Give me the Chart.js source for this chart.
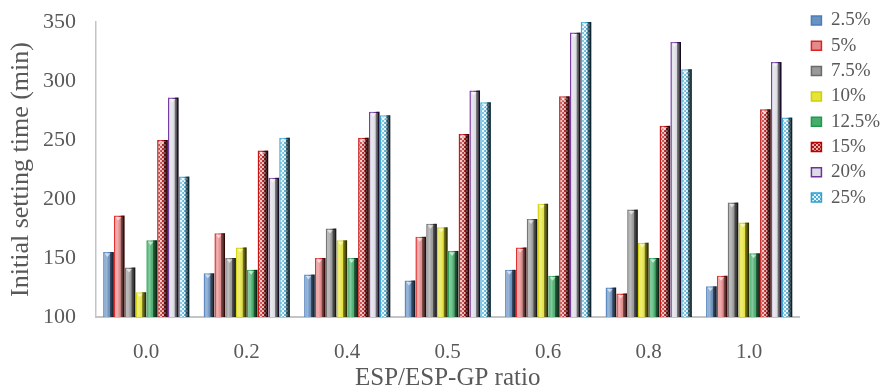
<!DOCTYPE html>
<html lang="en">
<head>
<meta charset="UTF-8">
<title>Initial setting time vs ESP/ESP-GP ratio</title>
<script src="https://cdn.jsdelivr.net/npm/chart.js"></script>
<style>
  html, body { margin: 0; padding: 0; background: #fff; }
  .wrap { width: 880px; height: 388px; }
</style>
</head>
<body>
<div class="wrap"><canvas id="chart"></canvas></div>
<script>
// categories and series
const ratios = ['0.0', '0.2', '0.4', '0.5', '0.6', '0.8', '1.0'];
const dosages = ['2.5%', '5%', '7.5%', '10%', '12.5%', '15%', '20%', '25%'];
const yTicks = [100, 150, 200, 250, 300, 350];

const time2_5 = [155, 137, 136, 131, 140, 125, 126];
const time5 = [186, 171, 150, 168, 159, 120, 135];
const time7_5 = [142, 150, 175, 179, 183, 191, 197];
const time10 = [121, 159, 165, 176, 196, 163, 180];
const time12_5 = [165, 140, 150, 156, 135, 150, 154];
const time15 = [250, 241, 252, 255, 287, 262, 276];
const time20 = [286, 218, 274, 292, 341, 333, 316];
const time25 = [219, 252, 271, 282, 350, 310, 269];
const series = [time2_5, time5, time7_5, time10, time12_5, time15, time20, time25];

// small checker tile used for the two dotted series
function checker(base, dot) {
  const c = document.createElement('canvas');
  c.width = 4; c.height = 4;
  const g = c.getContext('2d');
  g.fillStyle = base; g.fillRect(0, 0, 4, 4);
  g.fillStyle = dot; g.fillRect(0, 0, 2, 2); g.fillRect(2, 2, 2, 2);
  return g.createPattern(c, 'repeat');
}

const fills = ['#6A93C2', '#E58A8A', '#9A9A9A', '#E6E43A', '#45AE6C',
  checker('#B01818', '#E9B4B4'), '#DCDCE4', checker('#4FAFD6', '#E4F4FA')];
const edges = ['#4A7EBB', '#E02222', '#6A6A6A', '#D2CF00', '#1F9A4B',
  '#C00000', '#7030A0', '#2FA0D2'];

const font = "'Liberation Serif', 'Times New Roman', serif";
const grey = '#595959';

// shading on each bar: light streak, dark right side, small bevel on top
const bevel = {
  id: 'bevel',
  afterDatasetDraw(chart, args) {
    const ctx = chart.ctx;
    const area = chart.chartArea;
    ctx.save();
    ctx.beginPath();
    ctx.rect(area.left, area.top - 4, area.right - area.left, area.bottom - area.top + 4);
    ctx.clip();
    args.meta.data.forEach(bar => {
      const x = bar.x, y = bar.y, w = bar.width, h = bar.base - bar.y;
      if (!isFinite(x) || !isFinite(w) || h <= 0) return;
      const l = x - w / 2, r = x + w / 2;
      const g = ctx.createLinearGradient(l, 0, r, 0);
      g.addColorStop(0, 'rgba(255,255,255,0)');
      g.addColorStop(0.3, 'rgba(255,255,255,0.35)');
      g.addColorStop(0.55, 'rgba(255,255,255,0)');
      g.addColorStop(0.66, 'rgba(0,0,0,0.45)');
      g.addColorStop(1, 'rgba(0,0,0,0.85)');
      ctx.fillStyle = g;
      ctx.fillRect(l, y, w, h);
      ctx.fillStyle = 'rgba(255,255,255,0.6)';
      ctx.beginPath();
      ctx.moveTo(l + 1.5, y + 1.5);
      ctx.lineTo(r - 3.5, y + 1.5);
      ctx.lineTo(x - 1, y + 5);
      ctx.closePath();
      ctx.fill();
    });
    ctx.restore();
  }
};

new Chart(document.getElementById('chart'), {
  type: 'bar',
  data: {
    labels: ratios,
    datasets: dosages.map((name, i) => ({
      label: name,
      data: series[i],
      backgroundColor: fills[i],
      borderColor: edges[i],
      borderWidth: 1.5,
      categoryPercentage: 0.86,
      barPercentage: 0.98
    }))
  },
  options: {
    responsive: true,
    maintainAspectRatio: false,
    animation: false,
    layout: { padding: { top: -1, right: -10, left: 0, bottom: 0 } },
    plugins: {
      tooltip: { enabled: false },
      legend: {
        position: 'right',
        align: 'start',
        labels: {
          boxWidth: 10,
          boxHeight: 9,
          padding: 12,
          color: grey,
          font: { family: font, size: 19, lineHeight: '13.3px' },
          // one-line arrays so the row pitch follows the font lineHeight
          generateLabels(chart) {
            return Chart.defaults.plugins.legend.labels.generateLabels(chart)
              .map(item => Object.assign(item, { text: [item.text] }));
          }
        }
      }
    },
    scales: {
      x: {
        grid: { display: false, drawTicks: false },
        border: { display: true, color: '#C4C4C4', width: 2 },
        ticks: { color: grey, padding: 23, font: { family: font, size: 21 } },
        title: {
          display: true,
          text: 'ESP/ESP-GP ratio',
          color: grey,
          padding: 0,
          font: { family: font, size: 25, lineHeight: 0.8 }
        },
        afterFit(s) { s.height = 71; }
      },
      y: {
        min: 100,
        max: 350,
        grid: { display: false, drawTicks: false },
        border: { display: true, color: '#C4C4C4', width: 1.5 },
        afterBuildTicks(s) { s.ticks = yTicks.map(v => ({ value: v })); },
        ticks: { color: grey, padding: 20, font: { family: font, size: 22 } },
        title: {
          display: true,
          text: 'Initial setting time (min)',
          color: grey,
          padding: { top: 6, bottom: 0 },
          font: { family: font, size: 26 }
        },
        afterFit(s) { s.width = 96; s.paddingTop = 22; }
      }
    }
  },
  plugins: [bevel]
});
</script>
</body>
</html>
